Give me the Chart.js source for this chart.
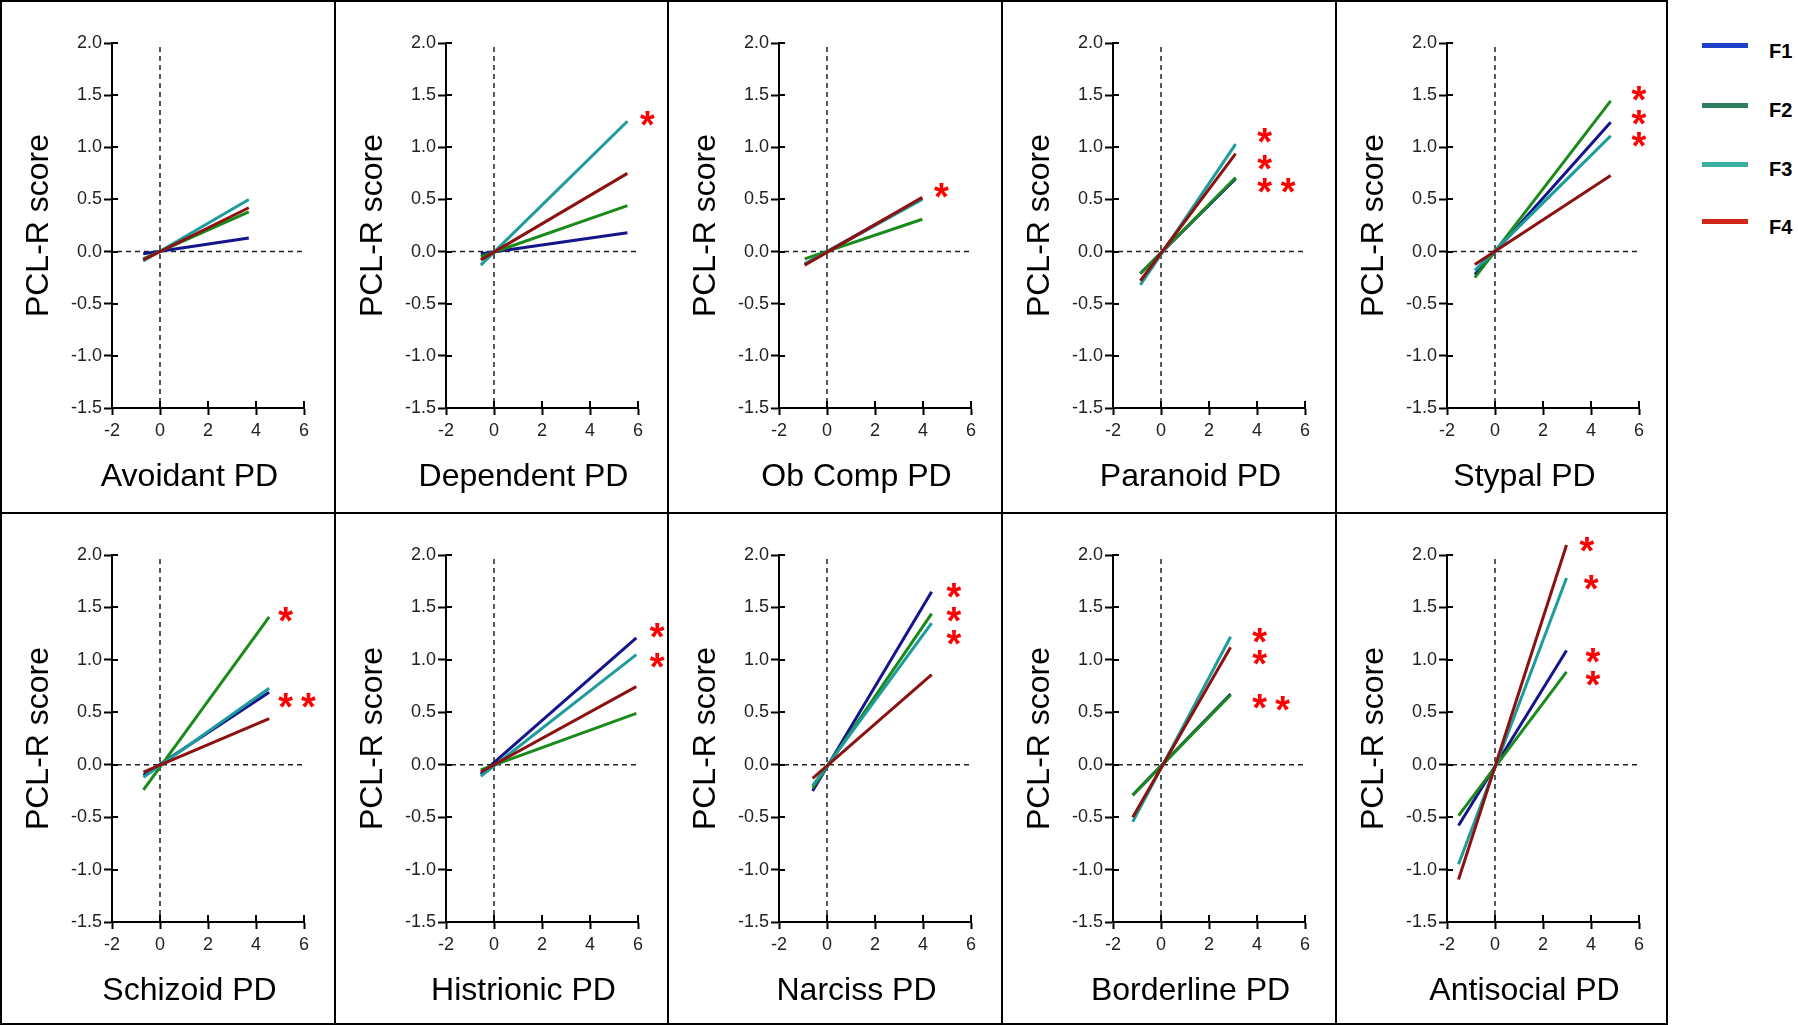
<!DOCTYPE html>
<html>
<head>
<meta charset="utf-8">
<script src="https://cdn.jsdelivr.net/npm/chart.js@4.4.1/dist/chart.umd.min.js"></script>
<style>
  body { margin: 0; background: #fff; }
  #figure { position: relative; width: 1798px; height: 1025px; overflow: hidden; }
  .cell { position: absolute; box-sizing: border-box; border-left: 2px solid #000; border-top: 2px solid #000; }
  .cell.last-col { border-right: 2px solid #000; }
  .cell.last-row { border-bottom: 2px solid #000; }
  .cell canvas { display: block; }
  .key-line { position: absolute; width: 46px; height: 5px; }
  .key-text { position: absolute; font: bold 20px "Liberation Sans", Arial, sans-serif; color: #000; line-height: 20px; }
</style>
</head>
<body>
<div id="figure"></div>
<script>
const FONT = '"Liberation Sans", Arial, sans-serif';

const panelNames = [
  'Avoidant PD', 'Dependent PD', 'Ob Comp PD', 'Paranoid PD', 'Stypal PD',
  'Schizoid PD', 'Histrionic PD', 'Narciss PD', 'Borderline PD', 'Antisocial PD',
];

const seriesNames = ['F1', 'F2', 'F3', 'F4'];
const lineColors = ['#14148c', '#1a8a1a', '#1e9c9c', '#8c1212'];
const keyColors = ['#1f40c8', '#2f8060', '#3cb0a0', '#d02818'];

// x range covered by the fitted lines in each panel
const xLow = [-0.7, -0.55, -0.93, -0.86, -0.84, -0.69, -0.55, -0.6, -1.18, -1.52];
const xHigh = [3.7, 5.56, 3.97, 3.11, 4.82, 4.55, 5.93, 4.36, 2.9, 2.98];

// predicted PCL-R score at the low / high end of each line
const f1Low = [-0.02, -0.02, -0.12, -0.21, -0.22, -0.10, -0.09, -0.25, -0.29, -0.58];
const f1High = [0.13, 0.18, 0.51, 0.70, 1.24, 0.69, 1.21, 1.65, 0.675, 1.09];
const f2Low = [-0.07, -0.05, -0.07, -0.21, -0.25, -0.24, -0.05, -0.22, -0.29, -0.485];
const f2High = [0.38, 0.44, 0.31, 0.71, 1.445, 1.41, 0.49, 1.44, 0.665, 0.885];
const f3Low = [-0.09, -0.13, -0.12, -0.32, -0.18, -0.12, -0.11, -0.20, -0.545, -0.95];
const f3High = [0.50, 1.25, 0.50, 1.03, 1.11, 0.73, 1.05, 1.35, 1.22, 1.78];
const f4Low = [-0.08, -0.08, -0.13, -0.28, -0.125, -0.07, -0.07, -0.13, -0.50, -1.095];
const f4High = [0.42, 0.75, 0.52, 0.94, 0.73, 0.44, 0.745, 0.86, 1.12, 2.095];

// significance markers, [x, y] in data units
const stars = [
  [],
  [[6.39, 1.28]],
  [[4.77, 0.59]],
  [[4.32, 1.11], [4.32, 0.85], [4.32, 0.63], [5.3, 0.63]],
  [[6.0, 1.52], [6.0, 1.29], [6.0, 1.07]],
  [[5.24, 1.43], [5.24, 0.61], [6.18, 0.61]],
  [[6.8, 1.28], [6.8, 0.99]],
  [[5.29, 1.66], [5.29, 1.43], [5.29, 1.21]],
  [[4.11, 1.23], [4.11, 1.02], [4.11, 0.60], [5.07, 0.58]],
  [[3.83, 2.10], [4.01, 1.74], [4.08, 1.04], [4.08, 0.82]],
];

const xTicks = [-2, 0, 2, 4, 6];
const yTicks = [-1.5, -1.0, -0.5, 0.0, 0.5, 1.0, 1.5, 2.0];

const lows = [f1Low, f2Low, f3Low, f4Low];
const highs = [f1High, f2High, f3High, f4High];

const colLeft = [0, 334, 667, 1001, 1335, 1668];
const rowTop = [0, 512, 1025];

// dashed zero lines, crossing tick stubs, x titles and asterisks
const decor = {
  id: 'decor',
  beforeDatasetsDraw(chart) {
    const { ctx, chartArea: a, scales: { x, y } } = chart;
    const x0 = x.getPixelForValue(0);
    const y0 = y.getPixelForValue(0);
    ctx.save();
    ctx.strokeStyle = '#222';
    ctx.lineWidth = 1.5;
    ctx.setLineDash([5, 4]);
    ctx.beginPath();
    ctx.moveTo(x0, a.top + 4);
    ctx.lineTo(x0, a.bottom - 4);
    ctx.moveTo(a.left + 5, y0);
    ctx.lineTo(a.right, y0);
    ctx.stroke();
    ctx.restore();
  },
  afterDraw(chart, args, opts) {
    const { ctx, chartArea: a, scales: { x, y } } = chart;
    ctx.save();
    ctx.strokeStyle = '#000';
    ctx.lineWidth = 2;
    ctx.beginPath();
    y.ticks.forEach(t => {
      const py = Math.round(y.getPixelForValue(t.value));
      ctx.moveTo(a.left, py);
      ctx.lineTo(a.left + 6, py);
    });
    x.ticks.forEach(t => {
      const px = Math.round(x.getPixelForValue(t.value));
      ctx.moveTo(px, a.bottom);
      ctx.lineTo(px, a.bottom - 7);
    });
    ctx.stroke();

    ctx.fillStyle = '#000';
    ctx.font = '32px ' + FONT;
    ctx.textAlign = 'center';
    ctx.textBaseline = 'middle';
    ctx.fillText(opts.title, a.left + 77.5, a.bottom + 69);

    ctx.fillStyle = '#ff0000';
    ctx.font = 'bold 38px ' + FONT;
    ctx.textBaseline = 'alphabetic';
    const m = ctx.measureText('*');
    const shift = (m.actualBoundingBoxAscent - m.actualBoundingBoxDescent) / 2;
    opts.stars.forEach(([sx, sy]) => {
      ctx.fillText('*', x.getPixelForValue(sx), y.getPixelForValue(sy) + shift);
    });
    ctx.restore();
  },
};

const figure = document.getElementById('figure');

panelNames.forEach((name, p) => {
  const col = p % 5;
  const row = Math.floor(p / 5);
  const cell = document.createElement('div');
  cell.className = 'cell' + (col === 4 ? ' last-col' : '') + (row === 1 ? ' last-row' : '');
  const w = colLeft[col + 1] - colLeft[col];
  const h = rowTop[row + 1] - rowTop[row];
  cell.style.left = colLeft[col] + 'px';
  cell.style.top = rowTop[row] + 'px';
  cell.style.width = w + 'px';
  cell.style.height = h + 'px';
  figure.appendChild(cell);

  const cw = w - 2 - (col === 4 ? 2 : 0);
  const ch = h - 2 - (row === 1 ? 2 : 0);
  const canvas = document.createElement('canvas');
  canvas.width = cw;
  canvas.height = ch;
  canvas.style.width = cw + 'px';
  canvas.style.height = ch + 'px';
  cell.appendChild(canvas);

  const plotBottom = row === 0 ? 406 : 408;

  const datasets = seriesNames.map((s, i) => ({
    label: s,
    data: [
      { x: xLow[p], y: lows[i][p] },
      { x: xHigh[p], y: highs[i][p] },
    ],
    borderColor: lineColors[i],
    borderWidth: 3,
    pointRadius: 0,
    clip: false,
    order: 4 - i,
  }));

  new Chart(canvas, {
    type: 'line',
    data: { datasets },
    plugins: [decor],
    options: {
      responsive: false,
      animation: false,
      events: [],
      layout: { padding: { top: 41, left: 0, right: cw - 302, bottom: 0 } },
      scales: {
        x: {
          type: 'linear',
          min: -2,
          max: 6,
          afterBuildTicks: s => { s.ticks = xTicks.map(value => ({ value })); },
          afterFit: s => { s.height = ch - plotBottom; },
          ticks: { color: '#222', font: { family: FONT, size: 18 }, padding: 5, maxRotation: 0, callback: v => String(v) },
          grid: { drawOnChartArea: false, tickLength: 7, tickWidth: 2, tickColor: '#000' },
          border: { color: '#000', width: 2 },
        },
        y: {
          type: 'linear',
          min: -1.5,
          max: 2.0,
          afterBuildTicks: s => { s.ticks = yTicks.map(value => ({ value })); },
          afterFit: s => { s.width = 110; },
          ticks: { color: '#222', font: { family: FONT, size: 18 }, padding: 2, callback: v => v.toFixed(1) },
          grid: { drawOnChartArea: false, tickLength: 8, tickWidth: 2, tickColor: '#000' },
          border: { color: '#000', width: 2 },
          title: {
            display: true,
            text: 'PCL-R score',
            color: '#000',
            font: { family: FONT, size: 32 },
            padding: { top: 17.5, bottom: 0 },
          },
        },
      },
      plugins: {
        legend: { display: false },
        tooltip: { enabled: false },
        decor: { title: name, stars: stars[p] },
      },
    },
  });
});

// series key on the right
const keyCenters = [45.7, 105, 164, 221.7];
seriesNames.forEach((s, i) => {
  const line = document.createElement('div');
  line.className = 'key-line';
  line.style.left = '1702px';
  line.style.top = (keyCenters[i] - 2.5) + 'px';
  line.style.background = keyColors[i];
  figure.appendChild(line);

  const label = document.createElement('div');
  label.className = 'key-text';
  label.style.left = '1769px';
  label.style.top = (keyCenters[i] - 5) + 'px';
  label.textContent = s;
  figure.appendChild(label);
});
</script>
</body>
</html>
